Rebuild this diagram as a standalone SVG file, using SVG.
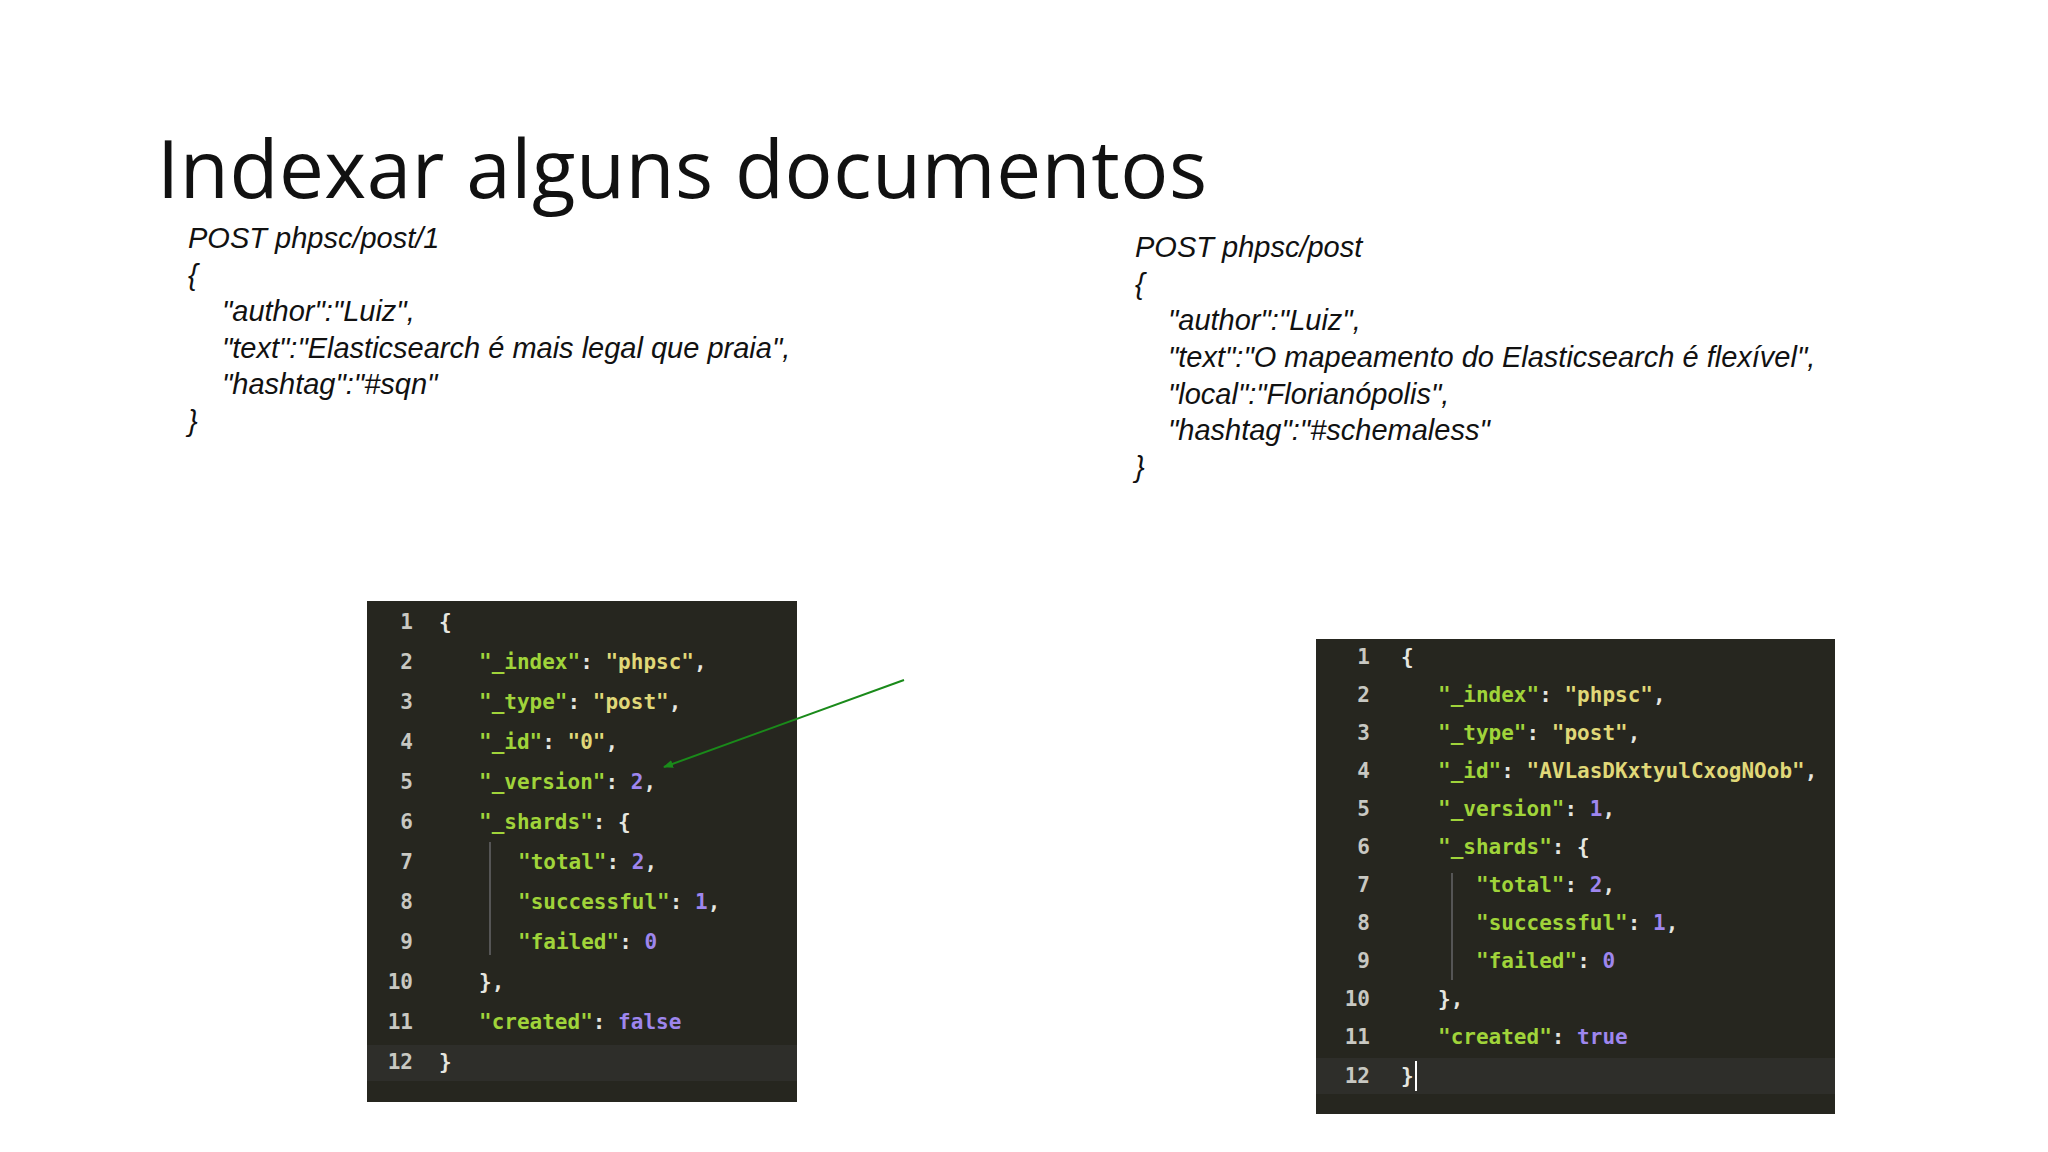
<svg xmlns="http://www.w3.org/2000/svg" width="2048" height="1152" viewBox="0 0 2048 1152">
<style>
.t{font-family:"Open Sans","Liberation Sans",sans-serif;fill:#111}
.r{font-family:"Liberation Sans",Arial,sans-serif;font-style:italic;font-size:29px;fill:#111}
.c{font-family:"DejaVu Sans Mono","Liberation Mono",monospace;font-weight:bold;font-size:21px}
.n{fill:#c8c8c2;text-anchor:end}
.k{fill:#a0d43a}.s{fill:#e0d878}.v{fill:#9e86ee}.p{fill:#e6e6e0}
</style>
<defs><marker id="ah" markerWidth="10" markerHeight="8" refX="9" refY="4" orient="auto" markerUnits="userSpaceOnUse" viewBox="0 0 10 8"><path d="M0,0 L10,4 L0,8z" fill="#1a8a1a"/></marker></defs>
<rect width="2048" height="1152" fill="#fff"/>
<text class="t" x="157" y="198" font-size="80" textLength="1050">Indexar alguns documentos</text>
<g id="req1" class="r">
<text x="188" y="248">POST phpsc/post/1</text>
<text x="188" y="285">{</text>
<text x="222" y="321">"author":"Luiz",</text>
<text x="222" y="358">"text":"Elasticsearch é mais legal que praia",</text>
<text x="222" y="394">"hashtag":"#sqn"</text>
<text x="188" y="431">}</text>
</g>
<g id="req2" class="r">
<text x="1135" y="257">POST phpsc/post</text>
<text x="1135" y="294">{</text>
<text x="1168" y="330">"author":"Luiz",</text>
<text x="1168" y="367">"text":"O mapeamento do Elasticsearch é flexível",</text>
<text x="1168" y="404">"local":"Florianópolis",</text>
<text x="1168" y="440">"hashtag":"#schemaless"</text>
<text x="1135" y="477">}</text>
</g>
<g id="resp1" class="c">
<rect x="367" y="601" width="430" height="501" fill="#26261f"/>
<rect x="367" y="1045" width="430" height="36" fill="#2e2e2a"/>
<line x1="490" y1="842" x2="490" y2="955" stroke="#555" stroke-width="2"/>
<g class="n"><text x="413" y="629">1</text><text x="413" y="669">2</text><text x="413" y="709">3</text><text x="413" y="749">4</text><text x="413" y="789">5</text><text x="413" y="829">6</text><text x="413" y="869">7</text><text x="413" y="909">8</text><text x="413" y="949">9</text><text x="413" y="989">10</text><text x="413" y="1029">11</text><text x="413" y="1069">12</text></g>
<text x="439" y="629" class="p">{</text>
<text x="479" y="669"><tspan class="k">"_index"</tspan><tspan class="p">: </tspan><tspan class="s">"phpsc"</tspan><tspan class="p">,</tspan></text>
<text x="479" y="709"><tspan class="k">"_type"</tspan><tspan class="p">: </tspan><tspan class="s">"post"</tspan><tspan class="p">,</tspan></text>
<text x="479" y="749"><tspan class="k">"_id"</tspan><tspan class="p">: </tspan><tspan class="s">"0"</tspan><tspan class="p">,</tspan></text>
<text x="479" y="789"><tspan class="k">"_version"</tspan><tspan class="p">: </tspan><tspan class="v">2</tspan><tspan class="p">,</tspan></text>
<text x="479" y="829"><tspan class="k">"_shards"</tspan><tspan class="p">: {</tspan></text>
<text x="518" y="869"><tspan class="k">"total"</tspan><tspan class="p">: </tspan><tspan class="v">2</tspan><tspan class="p">,</tspan></text>
<text x="518" y="909"><tspan class="k">"successful"</tspan><tspan class="p">: </tspan><tspan class="v">1</tspan><tspan class="p">,</tspan></text>
<text x="518" y="949"><tspan class="k">"failed"</tspan><tspan class="p">: </tspan><tspan class="v">0</tspan></text>
<text x="479" y="989" class="p">},</text>
<text x="479" y="1029"><tspan class="k">"created"</tspan><tspan class="p">: </tspan><tspan class="v">false</tspan></text>
<text x="439" y="1069" class="p">}</text>
</g>
<g id="resp2" class="c" font-size="20">
<rect x="1316" y="639" width="519" height="475" fill="#26261f"/>
<rect x="1316" y="1058" width="519" height="36" fill="#2e2e2a"/>
<line x1="1452" y1="873" x2="1452" y2="980" stroke="#555" stroke-width="2"/>
<g class="n"><text x="1370" y="664">1</text><text x="1370" y="702">2</text><text x="1370" y="740">3</text><text x="1370" y="778">4</text><text x="1370" y="816">5</text><text x="1370" y="854">6</text><text x="1370" y="892">7</text><text x="1370" y="930">8</text><text x="1370" y="968">9</text><text x="1370" y="1006">10</text><text x="1370" y="1044">11</text><text x="1370" y="1083">12</text></g>
<text x="1401" y="664" class="p">{</text>
<text x="1438" y="702"><tspan class="k">"_index"</tspan><tspan class="p">: </tspan><tspan class="s">"phpsc"</tspan><tspan class="p">,</tspan></text>
<text x="1438" y="740"><tspan class="k">"_type"</tspan><tspan class="p">: </tspan><tspan class="s">"post"</tspan><tspan class="p">,</tspan></text>
<text x="1438" y="778"><tspan class="k">"_id"</tspan><tspan class="p">: </tspan><tspan class="s">"AVLasDKxtyulCxogNOob"</tspan><tspan class="p">,</tspan></text>
<text x="1438" y="816"><tspan class="k">"_version"</tspan><tspan class="p">: </tspan><tspan class="v">1</tspan><tspan class="p">,</tspan></text>
<text x="1438" y="854"><tspan class="k">"_shards"</tspan><tspan class="p">: {</tspan></text>
<text x="1476" y="892"><tspan class="k">"total"</tspan><tspan class="p">: </tspan><tspan class="v">2</tspan><tspan class="p">,</tspan></text>
<text x="1476" y="930"><tspan class="k">"successful"</tspan><tspan class="p">: </tspan><tspan class="v">1</tspan><tspan class="p">,</tspan></text>
<text x="1476" y="968"><tspan class="k">"failed"</tspan><tspan class="p">: </tspan><tspan class="v">0</tspan></text>
<text x="1438" y="1006" class="p">},</text>
<text x="1438" y="1044"><tspan class="k">"created"</tspan><tspan class="p">: </tspan><tspan class="v">true</tspan></text>
<text x="1401" y="1083" class="p">}</text>
<line x1="1416" y1="1061" x2="1416" y2="1091" stroke="#fff" stroke-width="2"/>
</g>
<g id="connectors">
<line x1="904" y1="680" x2="664" y2="767" stroke="#1a8a1a" stroke-width="2" marker-end="url(#ah)"/>
</g>
</svg>
